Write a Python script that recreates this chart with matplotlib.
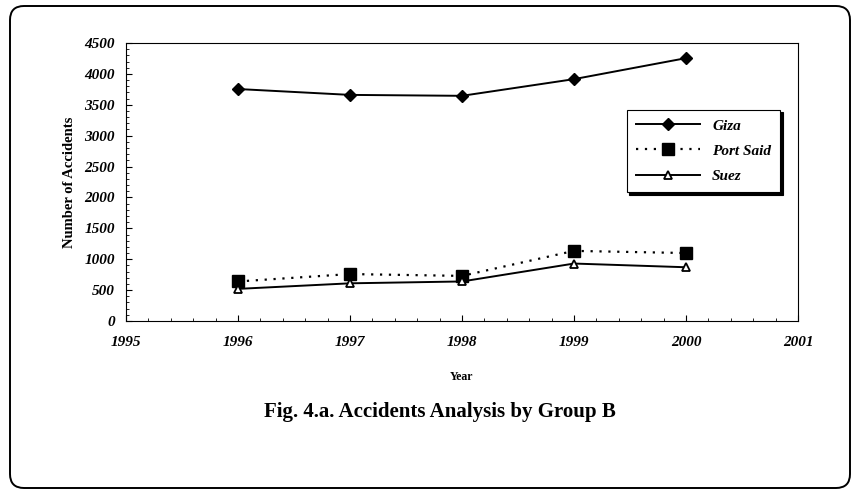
import matplotlib
matplotlib.use('Agg')
import matplotlib.pyplot as plt
from matplotlib.patches import FancyBboxPatch
from matplotlib.ticker import MultipleLocator

# Data
years = [1996, 1997, 1998, 1999, 2000]
giza = [3755, 3660, 3645, 3915, 4255]
port_said = [640, 760, 730, 1135, 1100]
suez = [520, 610, 640, 930, 870]

plt.rcParams['font.family'] = ['Liberation Serif', 'DejaVu Serif']

fig = plt.figure(figsize=(8.58, 4.94), dpi=100)

# background frame (rounded border of the scanned figure)
bg = fig.add_axes([0, 0, 1, 1])
bg.set_xlim(0, 858)
bg.set_ylim(494, 0)
bg.axis('off')
frame = FancyBboxPatch((10, 6), 840, 482, boxstyle='round,pad=0,rounding_size=14',
                       fill=False, edgecolor='black', linewidth=1.4)
bg.add_patch(frame)

# plot area: left 126, right 798, top 43, bottom 321 (pixels)
W, H = 858, 494
ax = fig.add_axes([126 / W, 1 - 321 / H, (798 - 126) / W, (321 - 43) / H])

ax.plot(years, giza, color='black', linewidth=1.4, marker='D', markersize=6,
        markerfacecolor='black', label='Giza')
ax.plot(years, port_said, color='black', linewidth=1.6, linestyle=(0, (1, 3)),
        marker='s', markersize=8, markerfacecolor='black', label='Port Said')
ax.plot(years, suez, color='black', linewidth=1.4, marker='^', markersize=6,
        markerfacecolor='white', markeredgewidth=1.3, label='Suez')

ax.set_xlim(1995, 2001)
ax.set_ylim(0, 4500)
ax.xaxis.set_major_locator(MultipleLocator(1))
ax.xaxis.set_minor_locator(MultipleLocator(0.2))
ax.yaxis.set_major_locator(MultipleLocator(500))
ax.yaxis.set_minor_locator(MultipleLocator(100))
ax.tick_params(which='both', direction='in', top=False, right=False)
ax.tick_params(which='major', length=4, width=0.8)
ax.tick_params(which='minor', length=2, width=0.6)
ax.tick_params(axis='x', pad=11)
ax.tick_params(axis='y', pad=8)

for lbl in ax.get_xticklabels() + ax.get_yticklabels():
    lbl.set_fontstyle('italic')
    lbl.set_fontweight('bold')
    lbl.set_fontsize(11)

for s in ax.spines.values():
    s.set_linewidth(0.8)

ax.set_xlabel('Year', fontsize=8.5, fontweight='bold', labelpad=16)
ax.set_ylabel('Number of Accidents', fontsize=10.5, fontweight='bold', labelpad=6)

leg = ax.legend(loc='upper left', bbox_to_anchor=(0.745, 0.76), borderaxespad=0,
                frameon=True, fancybox=False, shadow={'color': 'black', 'alpha': 1},
                handlelength=4.2, borderpad=0.6, labelspacing=0.75,
                prop={'style': 'italic', 'weight': 'bold', 'size': 11})
leg.get_frame().set_edgecolor('black')
leg.get_frame().set_linewidth(0.8)

fig.text(440 / W, 1 - 412 / H, 'Fig. 4.a. Accidents Analysis by Group B',
         ha='center', va='center', fontsize=15, fontweight='bold')

fig.savefig('out.png', dpi=100)
